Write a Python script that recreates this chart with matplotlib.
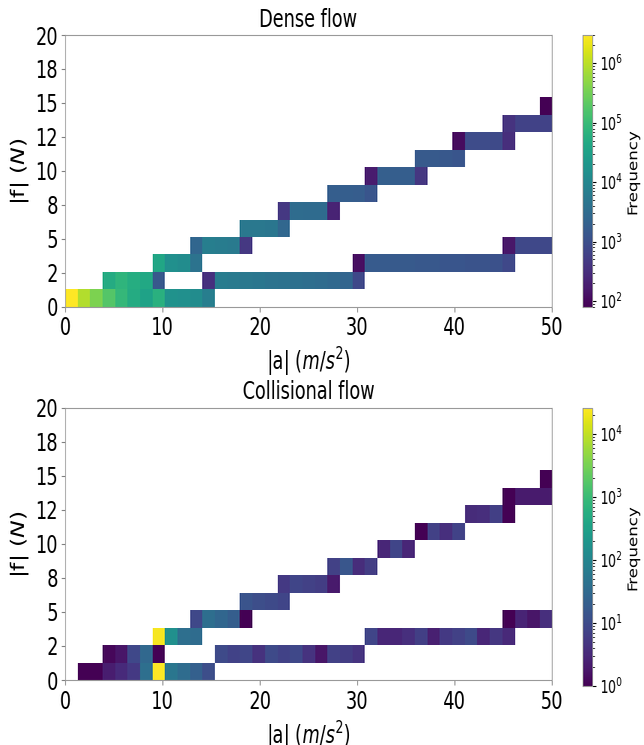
import io
import numpy as np
import matplotlib
matplotlib.use('Agg')
import matplotlib.pyplot as plt
from matplotlib.colors import LogNorm
from matplotlib.ticker import FormatStrFormatter
from PIL import Image

# bin grid shared by both histograms (|a| and |f| use the same bin width)
bin_w = 1.284
x_edges = np.arange(40) * bin_w
y_edges = np.arange(17) * bin_w

# counts per run of cells: (row index, first column index, counts along the row)
dense_runs = [
    (0, 0, [3.0e6, 9.0e5, 3.8e5, 1.8e5, 9.0e4, 5.0e4, 3.5e4, 6.5e4, 1.7e4, 1.5e4, 1.3e4, 7.0e3]),
    (1, 3, [5.0e4, 7.5e4, 5.5e4, 4.5e4, 1.4e3]),
    (1, 11, [350, 6.5e3, 6.0e3, 5.5e3, 5.0e3, 4.5e3, 4.2e3, 3.8e3, 3.5e3, 3.2e3, 2.8e3, 2.4e3, 800]),
    (2, 7, [4.0e4, 1.5e4, 1.3e4, 4.5e3]),
    (2, 23, [120, 1.6e3, 1.6e3, 1.5e3, 1.5e3, 1.4e3, 1.4e3, 1.3e3, 1.3e3, 1.2e3, 1.2e3, 1.1e3, 800]),
    (3, 10, [2.5e3, 7.0e3, 6.5e3, 6.0e3, 450]),
    (3, 35, [150, 800, 800, 800]),
    (4, 14, [5.5e3, 5.5e3, 5.0e3, 2.6e3]),
    (5, 17, [450, 3.2e3, 3.0e3, 3.0e3, 220]),
    (6, 21, [1.8e3, 1.8e3, 1.7e3, 1.3e3]),
    (7, 24, [180, 1.9e3, 1.8e3, 1.8e3, 420]),
    (8, 28, [1.5e3, 1.5e3, 1.4e3, 1.3e3]),
    (9, 31, [110, 900, 900, 850, 320]),
    (10, 35, [380, 650, 650, 650]),
    (11, 38, [80]),
]

coll_runs = [
    (0, 1, [1, 1, 2.3, 3.4, 5.5, 40, 2.6e4, 55, 35, 22, 11]),
    (1, 3, [1.2, 1.8, 9, 30, 1]),
    (1, 12, [10, 7.5, 8.5, 4.2, 10, 7.5, 9, 4.5, 1.8, 7, 6, 4.6]),
    (2, 7, [2.3e4, 160, 40, 35]),
    (2, 24, [8, 3, 3, 4, 6.5, 2.4, 5.5, 7, 10, 3, 5, 3.2]),
    (3, 10, [9, 38, 28, 20, 1]),
    (3, 35, [1, 2.7, 1.8, 4]),
    (4, 14, [14, 11, 10, 8]),
    (5, 17, [5.5, 8, 7, 6, 2]),
    (6, 21, [7, 15, 3.6, 6]),
    (7, 25, [3, 8, 3]),
    (8, 28, [1, 7, 4, 7.5]),
    (9, 32, [3.5, 3.8, 6.5, 1]),
    (10, 35, [1, 2.1, 2.1, 2.1]),
    (11, 38, [1]),
]

titles = ['Dense flow', 'Collisional flow']


def expand(runs):
    xs, ys, ws = [], [], []
    for row, col0, counts in runs:
        for k, c in enumerate(counts):
            xs.append((col0 + k + 0.5) * bin_w)
            ys.append((row + 0.5) * bin_w)
            ws.append(c)
    return xs, ys, ws


# drawn wide, then squeezed to the target size like the original
fig = plt.figure(figsize=(8.6, 7.45), dpi=100)
ax_pos = [[0.101, 0.5883, 0.7555, 0.3647], [0.101, 0.0872, 0.7555, 0.3656]]
cax_pos = [[0.9047, 0.5883, 0.0155, 0.3647], [0.9047, 0.0792, 0.0155, 0.3731]]

for runs, title, apos, cpos in zip([dense_runs, coll_runs], titles, ax_pos, cax_pos):
    ax = fig.add_axes(apos)
    cax = fig.add_axes(cpos)
    xs, ys, ws = expand(runs)
    h, _, _, im = ax.hist2d(xs, ys, bins=[x_edges, y_edges], weights=ws,
                            norm=LogNorm(), cmap='viridis', cmin=0.5)
    ax.set_xlim(0, 50)
    ax.set_ylim(0, 20)
    ax.set_xticks([0, 10, 20, 30, 40, 50])
    ax.set_yticks(np.arange(0, 20.1, 2.5))
    ax.yaxis.set_major_formatter(FormatStrFormatter('%.0f'))
    ax.tick_params(labelsize=17, color='0.5')
    for s in ax.spines.values():
        s.set_color('0.6')
    ax.set_title(title, fontsize=17)
    ax.set_xlabel(r'|a| $(m/s^2)$', fontsize=17)
    ax.set_ylabel(r'|f| $(N)$', fontsize=17)

    cb = fig.colorbar(im, cax=cax)
    cb.set_label('Frequency', fontsize=12)
    cb.ax.tick_params(labelsize=12)
    cb.outline.set_edgecolor('0.6')

buf = io.BytesIO()
fig.savefig(buf, format='png', dpi=100)
buf.seek(0)
Image.open(buf).resize((644, 745), Image.LANCZOS).save('out.png')
